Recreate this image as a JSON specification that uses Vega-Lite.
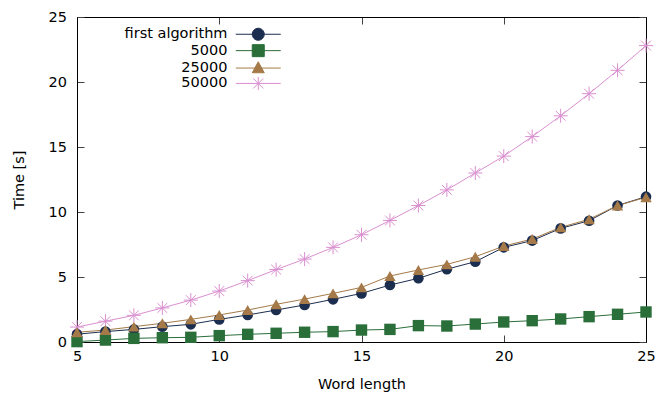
{
  "$schema": "https://vega.github.io/schema/vega-lite/v6.json",
  "width": 569,
  "height": 325,
  "autosize": {"type": "none"},
  "padding": {"left": 77, "top": 17, "right": 21, "bottom": 52},
  "background": "white",
  "config": {
    "font": "DejaVu Sans",
    "view": {"stroke": null},
    "axis": {
      "domainColor": "black",
      "domainWidth": 1,
      "tickColor": "#444444",
      "tickWidth": 1,
      "grid": false,
      "labelFont": "DejaVu Sans",
      "labelFontSize": 14.5,
      "labelColor": "black",
      "titleFont": "DejaVu Sans",
      "titleFontSize": 14.5,
      "titleFontWeight": "normal",
      "titleColor": "black"
    }
  },
  "data": {
    "values": [
      {"n": 5, "series": "50000", "t": 1.15},
      {"n": 6, "series": "50000", "t": 1.6},
      {"n": 7, "series": "50000", "t": 2.05},
      {"n": 8, "series": "50000", "t": 2.62},
      {"n": 9, "series": "50000", "t": 3.22},
      {"n": 10, "series": "50000", "t": 3.92},
      {"n": 11, "series": "50000", "t": 4.72},
      {"n": 12, "series": "50000", "t": 5.57},
      {"n": 13, "series": "50000", "t": 6.38},
      {"n": 14, "series": "50000", "t": 7.28},
      {"n": 15, "series": "50000", "t": 8.25},
      {"n": 16, "series": "50000", "t": 9.35},
      {"n": 17, "series": "50000", "t": 10.5},
      {"n": 18, "series": "50000", "t": 11.7},
      {"n": 19, "series": "50000", "t": 13.0},
      {"n": 20, "series": "50000", "t": 14.3},
      {"n": 21, "series": "50000", "t": 15.8},
      {"n": 22, "series": "50000", "t": 17.4},
      {"n": 23, "series": "50000", "t": 19.1},
      {"n": 24, "series": "50000", "t": 20.9},
      {"n": 25, "series": "50000", "t": 22.8},
      {"n": 5, "series": "first algorithm", "t": 0.6},
      {"n": 6, "series": "first algorithm", "t": 0.8},
      {"n": 7, "series": "first algorithm", "t": 0.97},
      {"n": 8, "series": "first algorithm", "t": 1.18},
      {"n": 9, "series": "first algorithm", "t": 1.36},
      {"n": 10, "series": "first algorithm", "t": 1.74},
      {"n": 11, "series": "first algorithm", "t": 2.08},
      {"n": 12, "series": "first algorithm", "t": 2.46},
      {"n": 13, "series": "first algorithm", "t": 2.85},
      {"n": 14, "series": "first algorithm", "t": 3.28},
      {"n": 15, "series": "first algorithm", "t": 3.74},
      {"n": 16, "series": "first algorithm", "t": 4.38},
      {"n": 17, "series": "first algorithm", "t": 4.9},
      {"n": 18, "series": "first algorithm", "t": 5.6},
      {"n": 19, "series": "first algorithm", "t": 6.18},
      {"n": 20, "series": "first algorithm", "t": 7.28},
      {"n": 21, "series": "first algorithm", "t": 7.8},
      {"n": 22, "series": "first algorithm", "t": 8.74},
      {"n": 23, "series": "first algorithm", "t": 9.33},
      {"n": 24, "series": "first algorithm", "t": 10.5},
      {"n": 25, "series": "first algorithm", "t": 11.18},
      {"n": 5, "series": "5000", "t": 0.03},
      {"n": 6, "series": "5000", "t": 0.15},
      {"n": 7, "series": "5000", "t": 0.28},
      {"n": 8, "series": "5000", "t": 0.33},
      {"n": 9, "series": "5000", "t": 0.36},
      {"n": 10, "series": "5000", "t": 0.49},
      {"n": 11, "series": "5000", "t": 0.59},
      {"n": 12, "series": "5000", "t": 0.67},
      {"n": 13, "series": "5000", "t": 0.75},
      {"n": 14, "series": "5000", "t": 0.8},
      {"n": 15, "series": "5000", "t": 0.92},
      {"n": 16, "series": "5000", "t": 0.97},
      {"n": 17, "series": "5000", "t": 1.26},
      {"n": 18, "series": "5000", "t": 1.23},
      {"n": 19, "series": "5000", "t": 1.38},
      {"n": 20, "series": "5000", "t": 1.54},
      {"n": 21, "series": "5000", "t": 1.64},
      {"n": 22, "series": "5000", "t": 1.77},
      {"n": 23, "series": "5000", "t": 1.95},
      {"n": 24, "series": "5000", "t": 2.13},
      {"n": 25, "series": "5000", "t": 2.31},
      {"n": 5, "series": "25000", "t": 0.75},
      {"n": 6, "series": "25000", "t": 0.92},
      {"n": 7, "series": "25000", "t": 1.18},
      {"n": 8, "series": "25000", "t": 1.44},
      {"n": 9, "series": "25000", "t": 1.74},
      {"n": 10, "series": "25000", "t": 2.08},
      {"n": 11, "series": "25000", "t": 2.46},
      {"n": 12, "series": "25000", "t": 2.9},
      {"n": 13, "series": "25000", "t": 3.3},
      {"n": 14, "series": "25000", "t": 3.74},
      {"n": 15, "series": "25000", "t": 4.2},
      {"n": 16, "series": "25000", "t": 5.08},
      {"n": 17, "series": "25000", "t": 5.54},
      {"n": 18, "series": "25000", "t": 5.97},
      {"n": 19, "series": "25000", "t": 6.56},
      {"n": 20, "series": "25000", "t": 7.38},
      {"n": 21, "series": "25000", "t": 7.92},
      {"n": 22, "series": "25000", "t": 8.82},
      {"n": 23, "series": "25000", "t": 9.44},
      {"n": 24, "series": "25000", "t": 10.5},
      {"n": 25, "series": "25000", "t": 11.13}
    ]
  },
  "resolve": {"axis": {"x": "independent", "y": "independent"}},
  "layer": [
    {
      "mark": {"type": "line", "strokeWidth": 1, "clip": false},
      "encoding": {
        "x": {
          "field": "n", "type": "quantitative",
          "scale": {"domain": [5, 25], "nice": false, "zero": false},
          "axis": {"orient": "bottom", "values": [5, 10, 15, 20, 25], "title": "Word length", "tickSize": -7, "labelPadding": 14.7, "titlePadding": 14, "labelFlush": false}
        },
        "y": {
          "field": "t", "type": "quantitative",
          "scale": {"domain": [0, 25], "nice": false},
          "axis": {"orient": "left", "values": [0, 5, 10, 15, 20, 25], "title": "Time [s]", "tickSize": -7, "labelPadding": 17.5, "titlePadding": 21.5, "labelFlush": false}
        },
        "color": {
          "field": "series", "type": "nominal",
          "scale": {"domain": ["first algorithm", "5000", "25000", "50000"], "range": ["#1c2e4f", "#2a6e3a", "#a57a48", "#da8fd0"]},
          "legend": {
            "orient": "none",
            "legendX": 174,
            "legendY": 10,
            "title": null,
            "padding": 0,
            "symbolSize": 100,
            "labelAlign": "right",
            "labelOffset": -38,
            "labelFont": "DejaVu Sans",
            "labelFontSize": 14.5,
            "labelColor": "black",
            "labelLimit": 300,
            "rowPadding": -0.6,
            "encode": {
              "symbols": {
                "update": {
                  "shape": {"signal": "datum.value === 'first algorithm' ? 'M-4.5,0L4.5,0M1.2,0A1.2,1.2,0,1,1,-1.2,0A1.2,1.2,0,1,1,1.2,0Z' : datum.value === '5000' ? 'M-4.5,0L4.5,0M-1.2,-1.2L1.2,-1.2L1.2,1.2L-1.2,1.2Z' : datum.value === '25000' ? 'M-4.5,0L4.5,0M0,-1.26L1.2,0.94L-1.2,0.94Z' : 'M-4.5,0L4.5,0M0,-1.3L0,1.3M-1,-1L1,1M-1,1L1,-1'"},
                  "fill": {"scale": "color", "field": "value"},
                  "stroke": {"scale": "color", "field": "value"},
                  "strokeWidth": {"value": 1},
                  "opacity": {"value": 1}
                }
              }
            }
          }
        }
      }
    },
    {
      "transform": [{"filter": "datum.series === '50000'"}],
      "mark": {"type": "point", "shape": "M-1,0L1,0M0,-1L0,1M-0.7,-0.7L0.7,0.7M-0.7,0.7L0.7,-0.7", "filled": false, "stroke": "#da8fd0", "strokeWidth": 1, "size": 196, "opacity": 1, "clip": false},
      "encoding": {
        "x": {"field": "n", "type": "quantitative", "axis": null},
        "y": {"field": "t", "type": "quantitative", "axis": null}
      }
    },
    {
      "transform": [{"filter": "datum.series === 'first algorithm'"}],
      "mark": {"type": "point", "shape": "circle", "filled": true, "color": "#1c2e4f", "size": 113, "opacity": 1, "clip": false},
      "encoding": {
        "x": {"field": "n", "type": "quantitative", "axis": null},
        "y": {"field": "t", "type": "quantitative", "axis": null}
      }
    },
    {
      "transform": [{"filter": "datum.series === '5000'"}],
      "mark": {"type": "point", "shape": "square", "filled": true, "color": "#2a6e3a", "size": 130, "opacity": 1, "clip": false},
      "encoding": {
        "x": {"field": "n", "type": "quantitative", "axis": null},
        "y": {"field": "t", "type": "quantitative", "axis": null}
      }
    },
    {
      "transform": [{"filter": "datum.series === '25000'"}],
      "mark": {"type": "point", "shape": "triangle-up", "filled": true, "color": "#a57a48", "size": 130, "opacity": 1, "clip": false},
      "encoding": {
        "x": {"field": "n", "type": "quantitative", "axis": null},
        "y": {"field": "t", "type": "quantitative", "axis": null}
      }
    },
    {
      "mark": {"type": "point", "opacity": 0},
      "encoding": {
        "x": {
          "field": "n", "type": "quantitative",
          "axis": {"orient": "top", "values": [5, 10, 15, 20, 25], "labels": false, "title": null, "tickSize": -7}
        },
        "y": {
          "field": "t", "type": "quantitative",
          "axis": {"orient": "right", "values": [0, 5, 10, 15, 20, 25], "labels": false, "title": null, "tickSize": -7}
        }
      }
    }
  ]
}
